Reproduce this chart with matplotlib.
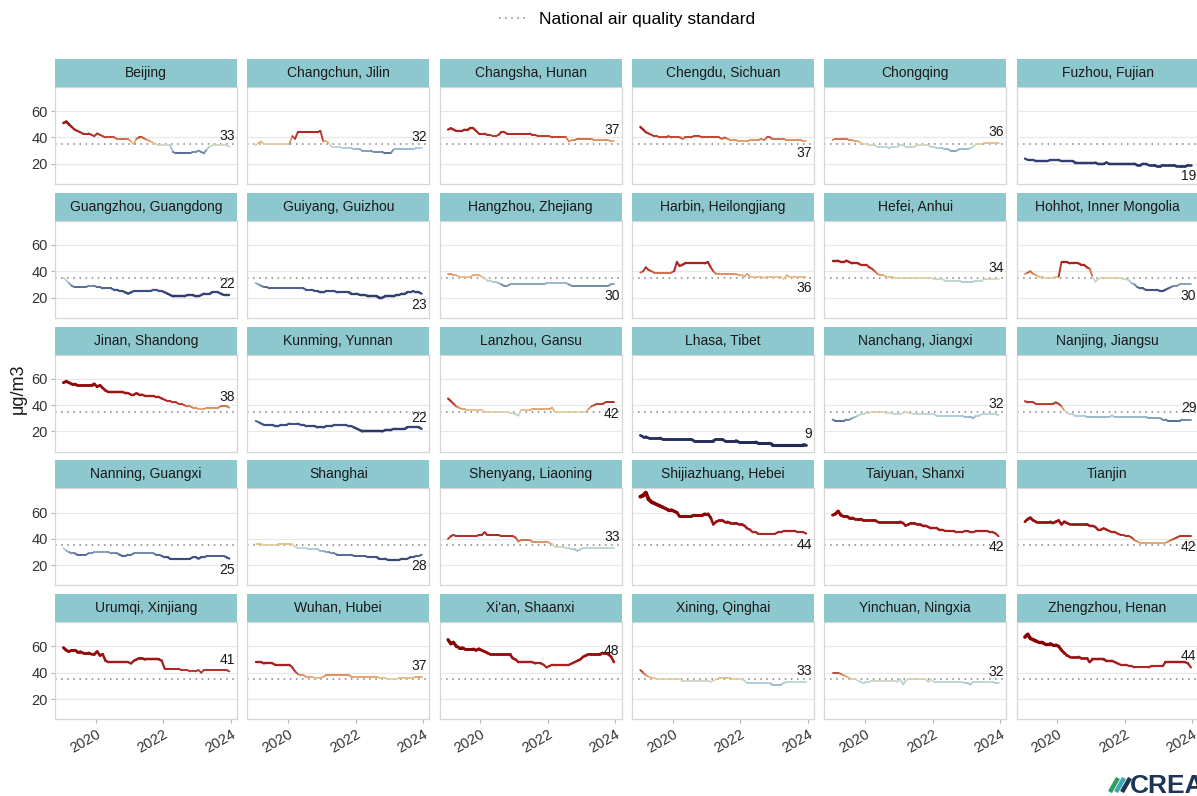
import numpy as np
import pandas as pd
import matplotlib
matplotlib.use('Agg')
import matplotlib.pyplot as plt
import matplotlib.dates as mdates
from matplotlib.collections import LineCollection
from matplotlib.colors import LinearSegmentedColormap, Normalize
from matplotlib.lines import Line2D

plt.rcParams['font.family'] = ['Liberation Sans', 'DejaVu Sans']

# ---------------- data (monthly 12-month rolling PM2.5, µg/m3) ----------------
months = pd.date_range('2019-01-01', periods=60, freq='MS') + pd.Timedelta(days=14)
STANDARD = 35

beijing = [51, 52, 50, 48, 46, 45, 44, 43, 43, 43, 42, 41,
           43, 42, 41, 40, 40, 40, 40, 39, 39, 39, 39, 39,
           37, 35, 39, 40, 40, 39, 38, 37, 36, 35, 34, 34,
           34, 34, 34, 29, 28, 28, 28, 28, 28, 28, 29, 29,
           30, 29, 28, 31, 33, 34, 34, 34, 34, 34, 34, 33]
changchun = [34, 36, 37, 35, 35, 35, 35, 35, 35, 35, 35, 35,
             35, 41, 39, 44, 44, 44, 44, 44, 44, 44, 44, 45,
             37, 37, 36, 33, 33, 33, 33, 32, 32, 32, 32, 31,
             31, 31, 30, 30, 30, 30, 29, 29, 29, 29, 28, 28,
             28, 31, 31, 31, 31, 31, 31, 31, 31, 32, 32, 32]
changsha = [46, 47, 46, 45, 45, 45, 46, 46, 47, 47, 45, 43,
            43, 43, 42, 42, 41, 41, 42, 44, 44, 43, 43, 43,
            43, 43, 43, 43, 43, 43, 42, 42, 41, 41, 41, 41,
            41, 40, 40, 40, 40, 40, 40, 37, 38, 38, 39, 39,
            39, 39, 39, 39, 38, 38, 38, 38, 38, 38, 37, 37]
chengdu = [48, 46, 44, 43, 42, 41, 41, 40, 40, 40, 41, 40,
           40, 40, 40, 39, 40, 40, 40, 41, 41, 41, 40, 40,
           40, 40, 40, 40, 40, 39, 40, 39, 38, 38, 38, 37,
           37, 37, 37, 38, 38, 38, 38, 39, 38, 40, 40, 39,
           39, 39, 39, 39, 38, 38, 38, 38, 38, 38, 37, 37]
chongqing = [38, 39, 39, 39, 39, 39, 38, 38, 37, 37, 36, 35,
             35, 34, 34, 34, 33, 33, 33, 33, 32, 33, 33, 33,
             34, 34, 33, 33, 33, 33, 34, 34, 34, 34, 34, 33,
             33, 32, 32, 32, 31, 31, 30, 30, 30, 31, 31, 31,
             31, 32, 33, 35, 35, 35, 36, 36, 36, 36, 36, 36]
fuzhou = [24, 23, 23, 23, 22, 22, 22, 22, 22, 23, 23, 23,
          23, 22, 22, 22, 22, 22, 21, 21, 21, 21, 21, 21,
          21, 21, 20, 20, 20, 21, 20, 20, 20, 20, 20, 20,
          20, 20, 20, 20, 19, 19, 20, 20, 19, 19, 19, 18,
          18, 19, 19, 19, 19, 19, 18, 18, 18, 18, 19, 19]
guangzhou = [35, 33, 31, 29, 28, 28, 28, 28, 28, 29, 29, 29,
             28, 28, 27, 27, 27, 27, 26, 26, 25, 25, 24, 23,
             24, 25, 25, 25, 25, 25, 25, 25, 26, 26, 25, 25,
             24, 23, 22, 21, 21, 21, 21, 21, 22, 22, 22, 21,
             21, 22, 23, 23, 23, 24, 24, 24, 23, 22, 22, 22]
guiyang = [31, 30, 29, 28, 28, 27, 27, 27, 27, 27, 27, 27,
           27, 27, 27, 27, 27, 27, 26, 26, 26, 25, 25, 24,
           24, 25, 25, 25, 25, 24, 24, 24, 24, 24, 23, 23,
           23, 22, 22, 22, 21, 21, 21, 21, 20, 20, 21, 21,
           21, 21, 22, 22, 23, 23, 24, 24, 25, 24, 24, 23]
hangzhou = [38, 38, 37, 37, 36, 36, 36, 36, 36, 37, 37, 37,
            36, 35, 33, 33, 32, 32, 31, 30, 29, 29, 30, 30,
            30, 30, 30, 30, 30, 30, 30, 30, 30, 30, 30, 31,
            31, 31, 31, 31, 31, 31, 31, 30, 29, 29, 29, 29,
            29, 29, 29, 29, 29, 29, 29, 29, 29, 29, 30, 30]
harbin = [39, 40, 43, 41, 40, 39, 39, 39, 39, 39, 39, 39,
          40, 47, 44, 45, 46, 46, 46, 46, 46, 46, 46, 46,
          47, 43, 40, 38, 38, 38, 38, 38, 38, 38, 38, 37,
          37, 36, 38, 36, 36, 36, 36, 36, 35, 36, 36, 36,
          36, 36, 36, 34, 37, 36, 36, 36, 36, 36, 36, 36]
hefei = [48, 48, 48, 47, 47, 48, 47, 46, 46, 46, 45, 45,
         45, 43, 42, 40, 38, 37, 37, 36, 36, 36, 35, 35,
         35, 35, 35, 35, 35, 35, 35, 35, 35, 35, 35, 35,
         34, 34, 34, 34, 33, 33, 33, 33, 33, 33, 32, 32,
         32, 32, 32, 33, 33, 33, 34, 34, 34, 34, 34, 34]
hohhot = [38, 39, 40, 38, 37, 36, 36, 35, 35, 35, 35, 36,
          36, 47, 47, 47, 46, 46, 46, 46, 45, 45, 43, 42,
          36, 32, 34, 35, 35, 35, 35, 35, 35, 35, 35, 34,
          34, 33, 31, 30, 28, 27, 27, 26, 26, 26, 26, 26,
          25, 25, 26, 27, 28, 29, 29, 30, 30, 30, 30, 30]
jinan = [57, 58, 57, 56, 56, 55, 55, 55, 55, 55, 55, 56,
         54, 55, 53, 51, 50, 50, 50, 50, 50, 50, 49, 49,
         48, 48, 49, 48, 48, 47, 47, 47, 47, 46, 46, 45,
         44, 43, 43, 42, 42, 41, 41, 40, 39, 39, 38, 38,
         37, 37, 37, 38, 38, 38, 38, 38, 39, 39, 39, 38]
kunming = [28, 27, 26, 25, 25, 25, 25, 24, 24, 25, 25, 25,
           26, 26, 26, 26, 25, 25, 24, 24, 24, 24, 23, 23,
           23, 24, 24, 24, 25, 25, 25, 25, 25, 24, 24, 23,
           22, 21, 20, 20, 20, 20, 20, 20, 20, 20, 21, 21,
           21, 22, 22, 22, 22, 22, 23, 23, 23, 23, 23, 22]
lanzhou = [45, 43, 41, 39, 38, 37, 37, 36, 36, 36, 36, 36,
           36, 35, 35, 35, 35, 35, 35, 35, 35, 35, 34, 34,
           33, 32, 36, 36, 36, 36, 37, 37, 37, 37, 37, 37,
           37, 38, 35, 35, 35, 35, 35, 35, 35, 35, 35, 35,
           35, 35, 37, 39, 40, 41, 41, 41, 42, 42, 42, 42]
lhasa = [17, 16, 16, 15, 15, 15, 15, 15, 14, 14, 14, 14,
         14, 14, 14, 14, 14, 14, 14, 13, 13, 13, 13, 13,
         13, 13, 13, 14, 14, 14, 13, 13, 13, 13, 13, 12,
         12, 12, 12, 12, 12, 12, 11, 11, 11, 11, 11, 10,
         10, 10, 10, 10, 10, 10, 10, 10, 10, 10, 10, 9.4]
nanchang = [29, 28, 28, 28, 28, 29, 29, 30, 31, 32, 33, 33,
            34, 34, 35, 35, 35, 35, 35, 34, 34, 34, 33, 33,
            33, 34, 35, 34, 34, 33, 33, 33, 33, 33, 33, 33,
            33, 32, 32, 32, 32, 32, 32, 32, 32, 32, 32, 31,
            31, 31, 30, 32, 32, 33, 33, 33, 33, 33, 33, 32.4]
nanjing = [43, 42, 42, 42, 41, 41, 41, 41, 41, 41, 41, 42,
           41, 39, 36, 34, 33, 33, 32, 32, 32, 32, 31, 31,
           31, 31, 31, 31, 31, 31, 31, 32, 31, 31, 31, 31,
           31, 31, 31, 31, 31, 31, 31, 31, 30, 30, 30, 30,
           30, 29, 29, 28, 28, 28, 28, 28, 29, 29, 29, 29]
nanning = [33, 31, 30, 29, 29, 28, 28, 28, 28, 29, 29, 30,
           30, 30, 30, 30, 30, 29, 29, 29, 28, 27, 27, 28,
           28, 29, 29, 29, 29, 29, 29, 29, 29, 28, 28, 27,
           26, 26, 25, 25, 25, 25, 25, 25, 25, 25, 26, 26,
           25, 26, 26, 27, 27, 27, 27, 27, 27, 27, 26, 25]
shanghai = [36, 36, 36, 35, 35, 35, 35, 35, 36, 36, 36, 36,
            36, 36, 34, 33, 33, 33, 33, 32, 32, 32, 32, 31,
            31, 30, 30, 29, 29, 28, 28, 28, 28, 28, 28, 27,
            27, 27, 27, 27, 26, 26, 26, 26, 25, 25, 25, 24,
            24, 24, 24, 24, 25, 25, 25, 26, 26, 27, 27, 28]
shenyang = [40, 42, 43, 42, 42, 42, 42, 42, 42, 42, 42, 43,
            43, 45, 43, 43, 43, 43, 43, 42, 42, 42, 42, 42,
            41, 38, 39, 39, 39, 39, 38, 38, 38, 38, 38, 38,
            37, 36, 34, 34, 34, 34, 33, 33, 32, 32, 31, 32,
            33, 33, 33, 33, 33, 33, 33, 33, 33, 33, 33, 33]
shijiazhuang = [72, 73, 75, 70, 68, 67, 66, 65, 64, 63, 62, 62,
                61, 60, 57, 57, 57, 57, 57, 58, 58, 58, 58, 59,
                59, 56, 51, 53, 54, 54, 53, 53, 52, 52, 52, 51,
                51, 50, 48, 47, 45, 45, 44, 44, 44, 44, 44, 44,
                44, 45, 45, 46, 46, 46, 46, 46, 45, 45, 45, 44]
taiyuan = [58, 59, 61, 58, 57, 57, 56, 56, 55, 55, 55, 54,
           54, 54, 54, 54, 53, 53, 53, 53, 53, 53, 53, 53,
           53, 52, 50, 51, 52, 52, 51, 51, 50, 50, 49, 48,
           48, 48, 47, 47, 46, 46, 46, 46, 45, 45, 45, 46,
           46, 45, 45, 46, 46, 46, 46, 46, 45, 45, 44, 42]
tianjin = [53, 55, 56, 54, 53, 53, 53, 53, 53, 53, 52, 53,
           54, 51, 53, 52, 51, 51, 51, 51, 51, 51, 51, 50,
           50, 49, 47, 47, 48, 47, 46, 45, 45, 44, 43, 43,
           42, 42, 41, 39, 38, 37, 37, 37, 37, 37, 37, 37,
           37, 37, 37, 38, 39, 40, 41, 42, 42, 42, 42, 42]
urumqi = [59, 57, 56, 57, 57, 56, 56, 55, 55, 55, 54, 54,
          56, 53, 54, 49, 48, 48, 48, 48, 48, 48, 48, 48,
          47, 49, 50, 51, 51, 50, 50, 50, 50, 50, 50, 49,
          43, 43, 43, 43, 43, 43, 42, 42, 42, 41, 41, 41,
          42, 40, 42, 42, 42, 42, 42, 42, 42, 42, 42, 41]
wuhan = [48, 48, 48, 47, 47, 47, 47, 46, 46, 46, 46, 46,
         46, 44, 41, 39, 38, 38, 37, 37, 37, 36, 36, 36,
         37, 38, 38, 38, 38, 38, 38, 38, 38, 38, 37, 37,
         37, 37, 37, 37, 37, 37, 37, 37, 36, 36, 36, 35,
         35, 35, 35, 36, 36, 36, 36, 36, 36, 37, 37, 37]
xian = [65, 62, 63, 60, 59, 59, 58, 58, 58, 58, 57, 58,
        57, 56, 55, 54, 54, 54, 54, 54, 54, 54, 54, 51,
        50, 48, 48, 48, 48, 48, 48, 47, 47, 47, 46, 44,
        45, 46, 46, 46, 46, 46, 46, 46, 47, 48, 49, 50,
        52, 53, 54, 54, 54, 54, 54, 55, 55, 54, 52, 48]
xining = [42, 40, 38, 37, 36, 36, 35, 35, 35, 35, 35, 35,
          35, 35, 35, 34, 34, 34, 34, 34, 34, 34, 34, 34,
          34, 33, 34, 35, 36, 36, 36, 36, 36, 35, 35, 35,
          35, 34, 32, 32, 32, 32, 32, 32, 32, 32, 32, 31,
          31, 31, 31, 32, 33, 33, 33, 33, 33, 33, 33, 33]
yinchuan = [40, 40, 40, 39, 38, 37, 36, 35, 35, 34, 33, 32,
            33, 33, 34, 34, 34, 34, 34, 34, 34, 34, 34, 33,
            35, 31, 34, 35, 35, 35, 35, 35, 35, 35, 33, 35,
            33, 33, 33, 33, 33, 33, 33, 33, 33, 33, 33, 32,
            32, 31, 33, 33, 33, 33, 33, 33, 33, 33, 32, 32]
zhengzhou = [67, 69, 66, 65, 64, 63, 63, 62, 62, 62, 61, 61,
             60, 57, 55, 53, 52, 52, 52, 52, 51, 51, 51, 48,
             50, 50, 50, 50, 50, 49, 49, 49, 48, 47, 46, 46,
             46, 45, 45, 44, 44, 44, 44, 44, 44, 45, 45, 45,
             45, 45, 48, 48, 48, 48, 48, 48, 48, 48, 47, 44]

city_names = ["Beijing", "Changchun, Jilin", "Changsha, Hunan", "Chengdu, Sichuan",
              "Chongqing", "Fuzhou, Fujian", "Guangzhou, Guangdong", "Guiyang, Guizhou",
              "Hangzhou, Zhejiang", "Harbin, Heilongjiang", "Hefei, Anhui",
              "Hohhot, Inner Mongolia", "Jinan, Shandong", "Kunming, Yunnan",
              "Lanzhou, Gansu", "Lhasa, Tibet", "Nanchang, Jiangxi", "Nanjing, Jiangsu",
              "Nanning, Guangxi", "Shanghai", "Shenyang, Liaoning", "Shijiazhuang, Hebei",
              "Taiyuan, Shanxi", "Tianjin", "Urumqi, Xinjiang", "Wuhan, Hubei",
              "Xi'an, Shaanxi", "Xining, Qinghai", "Yinchuan, Ningxia", "Zhengzhou, Henan"]
city_series = [beijing, changchun, changsha, chengdu, chongqing, fuzhou,
               guangzhou, guiyang, hangzhou, harbin, hefei, hohhot,
               jinan, kunming, lanzhou, lhasa, nanchang, nanjing,
               nanning, shanghai, shenyang, shijiazhuang, taiyuan, tianjin,
               urumqi, wuhan, xian, xining, yinchuan, zhengzhou]
# end-label placement: +1 above line end, -1 below
label_side = [1, 1, 1, -1, 1, -1,
              1, -1, -1, -1, 1, -1,
              1, 1, -1, 1, 1, 1,
              -1, -1, 1, -1, -1, -1,
              1, 1, 1, 1, 1, 1]

# ---------------- styling ----------------
W, H = 1197, 796
fig = plt.figure(figsize=(W / 100, H / 100), dpi=100)

stops = [(8, '#1f2853'), (20, '#2b3868'), (25, '#3c4a7d'), (28, '#5a6d96'),
         (30, '#85a5bc'), (32, '#a6cdd7'), (33, '#b8d3d2'), (34.5, '#d9d3ab'),
         (35.5, '#e3c48c'), (37, '#e2a064'), (38.5, '#d37a4c'), (40, '#c0432f'),
         (43, '#b12a26'), (50, '#9c1515'), (60, '#8b0000'), (76, '#800000')]
vmin, vmax = 8, 76
cmap = LinearSegmentedColormap.from_list(
    'crea', [((v - vmin) / (vmax - vmin), c) for v, c in stops])
norm = Normalize(vmin, vmax)

strip_color = '#8dc8cf'
x0 = mdates.date2num(pd.Timestamp('2018-10-16'))
x1 = mdates.date2num(pd.Timestamp('2024-03-07'))
xnum = mdates.date2num(months)

col_left = [55 + i * 192.3 for i in range(6)]
pw = 182
strip_h = 28
row_top = [59 + r * 133.8 for r in range(5)]
panel_h = 97

for idx, (name, vals) in enumerate(zip(city_names, city_series)):
    r, c = divmod(idx, 6)
    L = col_left[c]
    st = row_top[r]
    pt = st + strip_h
    pb = pt + panel_h
    ax = fig.add_axes([L / W, 1 - pb / H, pw / W, panel_h / H])
    sax = fig.add_axes([L / W, 1 - pt / H, pw / W, strip_h / H])
    sax.set_facecolor(strip_color)
    sax.set_xticks([]); sax.set_yticks([])
    for s in sax.spines.values():
        s.set_visible(False)
    sax.text(0.5, 0.5, name, ha='center', va='center', fontsize=10, color='#1a1a1a',
             transform=sax.transAxes)

    v = np.asarray(vals, dtype=float)
    pts = np.column_stack([xnum, v])
    segs = np.stack([pts[:-1], pts[1:]], axis=1)
    mids = (v[:-1] + v[1:]) / 2
    lws = 1.1 + 0.045 * np.abs(mids - STANDARD)
    lc = LineCollection(segs, colors=cmap(norm(mids)), linewidths=lws,
                        capstyle='round', joinstyle='round', zorder=3)
    ax.add_collection(lc)
    ax.axhline(STANDARD, color='#808080', lw=1.1, ls=(0, (1, 3)), zorder=2)

    ax.annotate(f"{v[-1]:.0f}", xy=(xnum[-1], v[-1]),
                xytext=(4, 8 * label_side[idx]), textcoords='offset points',
                ha='right', va='center', fontsize=10, color='#1a1a1a', zorder=4)

    ax.set_xlim(x0, x1)
    ax.set_ylim(4.7, 78.3)
    ax.set_yticks([20, 40, 60])
    ax.grid(axis='y', color='#e8e8e8', lw=0.9, zorder=0)
    ax.set_axisbelow(True)
    for s in ax.spines.values():
        s.set_color('#d6d6d6'); s.set_linewidth(0.9)
    ax.tick_params(axis='y', length=3 if c == 0 else 0, color='#b3b3b3',
                   labelsize=10.5, labelcolor='#333333', labelleft=(c == 0), pad=2)
    ticks = mdates.date2num([pd.Timestamp(f'{y}-01-01') for y in (2020, 2022, 2024)])
    ax.set_xticks(ticks)
    if r == 4:
        ax.set_xticklabels(['2020', '2022', '2024'], rotation=30, ha='right',
                           rotation_mode='anchor')
        ax.tick_params(axis='x', length=3, color='#b3b3b3', labelsize=10.5,
                       labelcolor='#333333', pad=3)
    else:
        ax.tick_params(axis='x', length=0, labelbottom=False)

# y label
fig.text(18 / W, 1 - 389 / H, 'μg/m3', rotation=90, ha='center', va='center',
         fontsize=13, color='#1a1a1a')

# legend
fig.legend(handles=[Line2D([], [], color='#808080', lw=1.1, ls=(0, (1, 3)))],
           labels=['National air quality standard'], loc='center',
           bbox_to_anchor=(627 / W, 1 - 19 / H), frameon=False, fontsize=12.5,
           handlelength=1.6, handletextpad=0.7)

# CREA logo
for dx, col in [(0, '#2e9c5b'), (6, '#3aa7b5'), (12, '#1d3557')]:
    fig.add_artist(Line2D([(1110 + dx) / W, (1118 + dx) / W],
                          [1 - 792 / H, 1 - 778 / H], color=col, lw=3.2,
                          solid_capstyle='butt', transform=fig.transFigure))
fig.text(1130 / W, 1 - 786 / H, 'CREA', fontsize=19, fontweight='bold',
         color='#1d3557', ha='left', va='center')

fig.savefig('out.png', dpi=100)
